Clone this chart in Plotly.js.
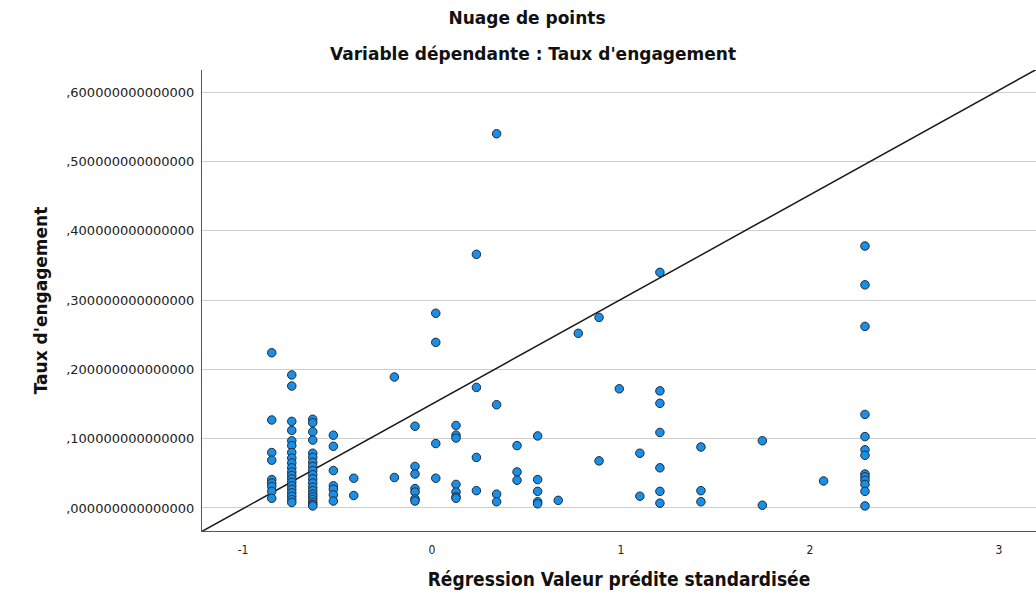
<!DOCTYPE html>
<html>
<head>
<meta charset="utf-8">
<script src="https://cdn.plot.ly/plotly-3.0.1.min.js"></script>
<style>html,body{margin:0;padding:0;background:#fff;}#chart{width:1036px;height:603px;}</style>
</head>
<body>
<div id="chart"></div>
<script>
// Standardised predicted values (column positions)
const predX = [-0.848, -0.742, -0.631, -0.522, -0.414, -0.199, -0.090, 0.020, 0.127, 0.235, 0.342, 0.450, 0.559, 0.668, 0.774, 0.884, 0.991, 1.100, 1.206, 1.423, 1.748, 2.072, 2.291];
// Engagement rates observed at each predicted value
const engagementY = [
  [0.224, 0.127, 0.080, 0.069, 0.041, 0.036, 0.031, 0.024, 0.014],
  [0.192, 0.176, 0.125, 0.112, 0.097, 0.090, 0.080, 0.072, 0.065, 0.058, 0.052, 0.047, 0.042, 0.037, 0.032, 0.027, 0.022, 0.017, 0.012, 0.008],
  [0.128, 0.123, 0.110, 0.098, 0.079, 0.073, 0.066, 0.060, 0.054, 0.048, 0.042, 0.036, 0.030, 0.025, 0.020, 0.016, 0.012, 0.008, 0.005, 0.003],
  [0.105, 0.089, 0.054, 0.032, 0.027, 0.019, 0.010],
  [0.043, 0.018],
  [0.189, 0.044],
  [0.118, 0.060, 0.049, 0.028, 0.023, 0.013, 0.010],
  [0.281, 0.239, 0.093, 0.043],
  [0.119, 0.105, 0.101, 0.034, 0.023, 0.016, 0.014],
  [0.366, 0.174, 0.073, 0.025],
  [0.540, 0.149, 0.020, 0.009],
  [0.090, 0.052, 0.040],
  [0.104, 0.041, 0.024, 0.009, 0.006],
  [0.011],
  [0.252],
  [0.275, 0.068],
  [0.172],
  [0.079, 0.017],
  [0.340, 0.169, 0.151, 0.109, 0.058, 0.024, 0.007],
  [0.088, 0.025, 0.009],
  [0.097, 0.004],
  [0.039],
  [0.378, 0.322, 0.262, 0.135, 0.103, 0.084, 0.076, 0.049, 0.045, 0.040, 0.034, 0.024, 0.003]
];
// Reference line (y = a + b x)
const refIntercept = 0.150;
const refSlope = 0.151;
const xRange = [-1.217, 3.196];
const yRange = [-0.0332, 0.632];
// Tick labels
const yTickVals = [0, 0.1, 0.2, 0.3, 0.4, 0.5, 0.6];
const yTickText = [",000000000000000", ",100000000000000", ",200000000000000", ",300000000000000", ",400000000000000", ",500000000000000", ",600000000000000"];
const xTickVals = [-1, 0, 1, 2, 3];
const xTickText = ["-1", "0", "1", "2", "3"];

const xs = [], ys = [];
predX.forEach((x, i) => engagementY[i].forEach(y => { xs.push(x); ys.push(y); }));

const lineX = xRange.slice();
const lineY = lineX.map(x => refIntercept + refSlope * x);

const narrow = '"Liberation Sans Narrow", "DejaVu Sans Condensed", "Roboto Condensed", sans-serif';
const sans = '"DejaVu Sans", Verdana, sans-serif';

const traces = [
  {x: lineX, y: lineY, type: 'scatter', mode: 'lines', line: {color: '#1a1a1a', width: 1.5}, hoverinfo: 'skip', showlegend: false, cliponaxis: true},
  {x: xs, y: ys, type: 'scatter', mode: 'markers', showlegend: false,
   marker: {size: 8.5, color: '#1b8fe6', line: {color: '#1c2b3a', width: 1}}}
];

const layout = {
  width: 1036, height: 603,
  margin: {l: 202, r: 0, t: 70, b: 72},
  paper_bgcolor: '#ffffff', plot_bgcolor: '#ffffff',
  showlegend: false,
  title: {text: 'Nuage de points', x: 527/1036, xref: 'container', xanchor: 'center', y: 1 - 18/603, yref: 'container', yanchor: 'middle',
          font: {family: sans, size: 17, color: '#111', weight: 'bold'}},
  annotations: [{
    text: "Variable dépendante : Taux d'engagement", showarrow: false,
    xref: 'paper', yref: 'paper', x: (533-202)/834, y: (531-54)/461, xanchor: 'center', yanchor: 'middle',
    font: {family: sans, size: 17, color: '#111', weight: 'bold'}
  }],
  xaxis: {
    range: xRange, tickvals: xTickVals, ticktext: xTickText,
    showgrid: false, zeroline: false, showline: true, linecolor: '#555', linewidth: 1,
    ticks: '', ticklabelstandoff: 8, tickfont: {family: narrow, size: 12, color: '#222'},
    title: {text: 'Régression Valeur prédite standardisée', standoff: 16, font: {family: narrow, size: 19, color: '#111', weight: 'bold'}}
  },
  yaxis: {
    range: yRange, tickvals: yTickVals, ticktext: yTickText,
    showgrid: true, gridcolor: '#cfcfcf', gridwidth: 1, zeroline: false,
    showline: true, linecolor: '#555', linewidth: 1,
    ticks: '', ticklabelstandoff: 4, tickfont: {family: sans, size: 13, color: '#222'},
    title: {text: "Taux d'engagement", standoff: 14, font: {family: sans, size: 17, color: '#111', weight: 'bold'}}
  }
};

Plotly.newPlot('chart', traces, layout, {displayModeBar: false, staticPlot: true});
</script>
</body>
</html>
